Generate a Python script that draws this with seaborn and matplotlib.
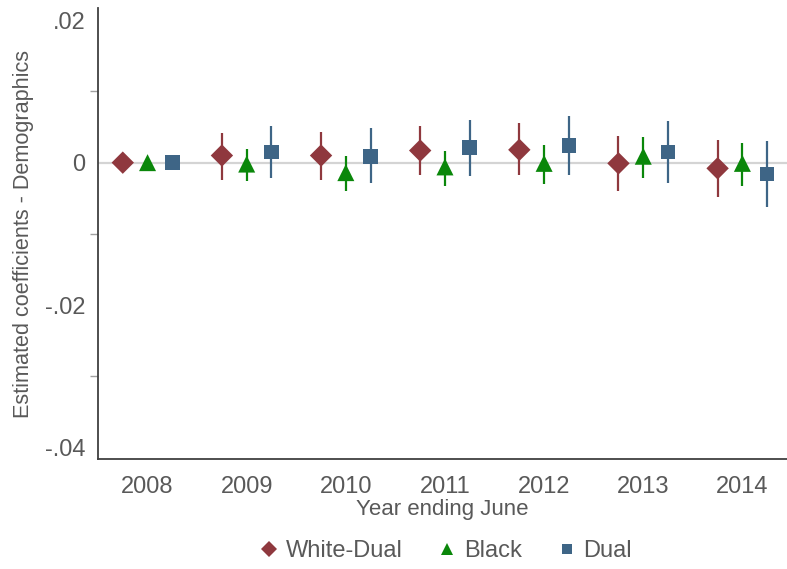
import numpy as np
import pandas as pd
import matplotlib
matplotlib.use("Agg")
import matplotlib.pyplot as plt
from matplotlib.lines import Line2D
import seaborn as sns

years = [2008, 2009, 2010, 2011, 2012, 2013, 2014]
series = ["White-Dual", "Black", "Dual"]

white_dual_coef = [0.0, 0.0010, 0.0010, 0.0017, 0.0018, -0.0001, -0.0008]
white_dual_lo = [0.0, -0.0024, -0.0024, -0.0018, -0.0018, -0.0040, -0.0048]
white_dual_hi = [0.0, 0.0042, 0.0043, 0.0052, 0.0055, 0.0037, 0.0032]

black_coef = [0.0, -0.0002, -0.0014, -0.0006, -0.0001, 0.0009, -0.0001]
black_lo = [0.0, -0.0026, -0.0040, -0.0033, -0.0030, -0.0021, -0.0033]
black_hi = [0.0, 0.0019, 0.0010, 0.0017, 0.0025, 0.0036, 0.0027]

dual_coef = [0.0, 0.0015, 0.0009, 0.0021, 0.0024, 0.0015, -0.0016]
dual_lo = [0.0, -0.0022, -0.0029, -0.0019, -0.0018, -0.0029, -0.0062]
dual_hi = [0.0, 0.0052, 0.0048, 0.0060, 0.0065, 0.0059, 0.0031]

y_ticks = [0.02, 0.0, -0.02, -0.04]
y_ticklabels = [".02", "0", "-.02", "-.04"]
y_minor = [0.01, -0.01, -0.03]

colors = {"White-Dual": "#8f383e", "Black": "#0a870a", "Dual": "#3e6586"}
markers = {"White-Dual": "D", "Black": "^", "Dual": "s"}
sizes = {"White-Dual": 130, "Black": 150, "Dual": 110}
offsets = {"White-Dual": -0.25, "Black": 0.0, "Dual": 0.25}

rows = []
for name, c, lo, hi in [("White-Dual", white_dual_coef, white_dual_lo, white_dual_hi),
                        ("Black", black_coef, black_lo, black_hi),
                        ("Dual", dual_coef, dual_lo, dual_hi)]:
    for y, cc, l, h in zip(years, c, lo, hi):
        rows.append({"year": y, "series": name, "coef": cc, "lo": l, "hi": h,
                     "xpos": y + offsets[name]})
df = pd.DataFrame(rows)

sns.set_style("white")
plt.rcParams["font.family"] = ["Liberation Sans", "DejaVu Sans"]
text_color = "#595959"

fig = plt.figure(figsize=(7.87, 5.69), dpi=100)
ax = fig.add_axes([0.1245, 0.193, 0.8755, 0.793])

ax.axhline(0, color="#d4d4d4", lw=1.6, zorder=0)

for name in series:
    d = df[df.series == name]
    d = d[d.year != 2008]
    ax.vlines(d.xpos, d.lo, d.hi, color=colors[name], lw=1.6, zorder=2)

for name in series:
    d = df[df.series == name]
    sns.scatterplot(data=d, x="xpos", y="coef", ax=ax, marker=markers[name],
                    color=colors[name], s=sizes[name], edgecolor="none",
                    linewidth=0, zorder=3, legend=False)

ax.set_xlim(2007.5, 2014.45)
ax.set_ylim(-0.0416, 0.0217)
ax.set_xticks(years)
ax.set_xticklabels([str(y) for y in years])
ax.set_yticks(y_ticks)
ax.set_yticklabels(y_ticklabels)
ax.set_yticks(y_minor, minor=True)

for s in ["top", "right"]:
    ax.spines[s].set_visible(False)
for s in ["left", "bottom"]:
    ax.spines[s].set_color("#404040")
    ax.spines[s].set_linewidth(1.3)

ax.tick_params(axis="both", which="major", length=6, width=1.0, color="#a0a0a0",
               labelsize=17, labelcolor=text_color, direction="out")
ax.tick_params(axis="y", which="minor", length=6, width=1.0, color="#a0a0a0",
               left=True)
ax.tick_params(axis="x", pad=6)
ax.tick_params(axis="y", pad=3)

ax.set_xlabel("Year ending June", fontsize=16, color=text_color, labelpad=1)
ax.set_ylabel("Estimated coefficients - Demographics", fontsize=15.6,
              color=text_color, labelpad=8)

handles = [Line2D([], [], ls="none", marker=markers[n], color=colors[n],
                  markersize={"White-Dual": 8, "Black": 9, "Dual": 7}[n],
                  markeredgewidth=0) for n in series]
fig.legend(handles, series, loc="center", bbox_to_anchor=(0.565, 0.032), ncol=3,
           frameon=False, fontsize=17, labelcolor=text_color, handletextpad=0.2,
           columnspacing=1.4, handlelength=1.0)

fig.savefig("out.png", dpi=100)
